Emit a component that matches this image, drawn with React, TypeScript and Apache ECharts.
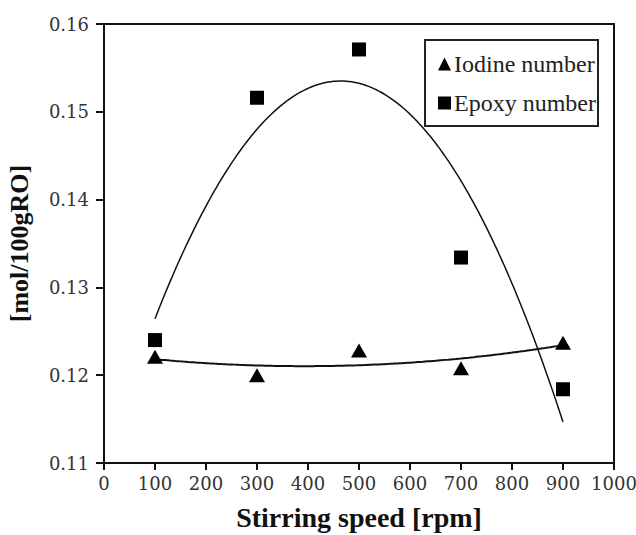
import React, { useEffect, useRef } from "react";
import * as echarts from "echarts";

const speeds = [100, 300, 500, 700, 900];
const iodineNumber = [0.1221, 0.12, 0.1228, 0.1208, 0.1237];
const epoxyNumber = [0.124, 0.1516, 0.1571, 0.1334, 0.1184];
const xMin = 0;
const xMax = 1000;
const xStep = 100;
const yMin = 0.11;
const yMax = 0.16;
const yStep = 0.01;

// least-squares quadratic (polynomial trendline, order 2)
function quadFit(xs: number[], ys: number[]) {
  const n = xs.length;
  let s0 = n, s1 = 0, s2 = 0, s3 = 0, s4 = 0, t0 = 0, t1 = 0, t2 = 0;
  for (let i = 0; i < n; i++) {
    const x = xs[i], y = ys[i];
    s1 += x; s2 += x * x; s3 += x * x * x; s4 += x * x * x * x;
    t0 += y; t1 += x * y; t2 += x * x * y;
  }
  const M = [
    [s0, s1, s2, t0],
    [s1, s2, s3, t1],
    [s2, s3, s4, t2],
  ];
  for (let c = 0; c < 3; c++) {
    let p = c;
    for (let r = c + 1; r < 3; r++) if (Math.abs(M[r][c]) > Math.abs(M[p][c])) p = r;
    [M[c], M[p]] = [M[p], M[c]];
    for (let r = 0; r < 3; r++) {
      if (r === c) continue;
      const f = M[r][c] / M[c][c];
      for (let k = c; k < 4; k++) M[r][k] -= f * M[c][k];
    }
  }
  const a = M[0][3] / M[0][0], b = M[1][3] / M[1][1], c2 = M[2][3] / M[2][2];
  return (x: number) => a + b * x + c2 * x * x;
}

function trend(xs: number[], ys: number[]) {
  const f = quadFit(xs, ys);
  const out: number[][] = [];
  const x0 = xs[0], x1 = xs[xs.length - 1];
  for (let x = x0; x <= x1 + 1e-9; x += 5) out.push([x, f(x)]);
  return out;
}

export default function App() {
  const ref = useRef<HTMLDivElement>(null);
  useEffect(() => {
    if (!ref.current) return;
    const chart = echarts.init(ref.current, null, { renderer: "svg" });
    const serif = "Liberation Serif";
    chart.setOption({
      animation: false,
      backgroundColor: "#fff",
      grid: {
        left: 104,
        right: 22,
        top: 24,
        bottom: 72,
        containLabel: false,
        outerBoundsMode: "none",
        show: true,
        borderColor: "#111",
        borderWidth: 2,
      },
      legend: {
        orient: "vertical",
        left: 433,
        top: 47,
        itemWidth: 13,
        itemHeight: 13,
        itemGap: 15,
        data: [
          { name: "Iodine number", icon: "triangle", itemStyle: { color: "#000", opacity: 1 } },
          { name: "Epoxy number", icon: "rect", itemStyle: { color: "#000", opacity: 1 } },
        ],
        textStyle: { fontFamily: serif, fontSize: 24, color: "#222", padding: [0, 0, 0, -2] },
      },
      graphic: [
        {
          type: "rect",
          z: 100,
          shape: { x: 425, y: 40, width: 173, height: 86 },
          style: { fill: "none", stroke: "#222", lineWidth: 2 },
        },
      ],
      xAxis: {
        type: "value",
        min: xMin,
        max: xMax,
        interval: xStep,
        name: "Stirring speed [rpm]",
        nameLocation: "middle",
        nameGap: 40,
        nameTextStyle: { fontFamily: serif, fontSize: 28, fontWeight: "bold", color: "#111" },
        axisLine: { lineStyle: { color: "#111", width: 2 } },
        axisTick: { show: true, length: 7, lineStyle: { color: "#111", width: 2 } },
        axisLabel: {
          fontFamily: "DejaVu Serif",
          fontSize: 18,
          color: "#333",
          margin: 11,
          formatter: (v: number) => String(v),
        },
        splitLine: { show: false },
      },
      yAxis: {
        type: "value",
        min: yMin,
        max: yMax,
        interval: yStep,
        name: "[mol/100gRO]",
        nameLocation: "middle",
        nameGap: 72,
        nameRotate: 90,
        nameTextStyle: { fontFamily: serif, fontSize: 26, fontWeight: "bold", color: "#111" },
        axisLine: { lineStyle: { color: "#111", width: 2 } },
        axisTick: { show: true, length: 8, lineStyle: { color: "#111", width: 2 } },
        axisLabel: {
          fontFamily: "DejaVu Serif",
          fontSize: 18,
          color: "#333",
          margin: 15,
          formatter: (v: number) => v.toFixed(2),
        },
        splitLine: { show: false },
      },
      series: [
        {
          name: "Iodine number",
          type: "scatter",
          symbol: "triangle",
          symbolSize: [16, 14],
          itemStyle: { color: "#000", opacity: 1 },
          data: speeds.map((s, i) => [s, iodineNumber[i]]),
          z: 5,
        },
        {
          name: "Epoxy number",
          type: "scatter",
          symbol: "rect",
          symbolSize: 14,
          itemStyle: { color: "#000", opacity: 1 },
          data: speeds.map((s, i) => [s, epoxyNumber[i]]),
          z: 5,
        },
        {
          name: "Iodine trend",
          type: "line",
          showSymbol: false,
          symbol: "none",
          lineStyle: { color: "#111", width: 2 },
          data: trend(speeds, iodineNumber),
          z: 3,
        },
        {
          name: "Epoxy trend",
          type: "line",
          showSymbol: false,
          symbol: "none",
          lineStyle: { color: "#111", width: 1.5 },
          data: trend(speeds, epoxyNumber),
          z: 3,
        },
      ],
    });
    return () => chart.dispose();
  }, []);
  return (
    <div
      ref={ref}
      style={{ position: "absolute", left: 0, top: 0, width: 636, height: 535 }}
    />
  );
}
